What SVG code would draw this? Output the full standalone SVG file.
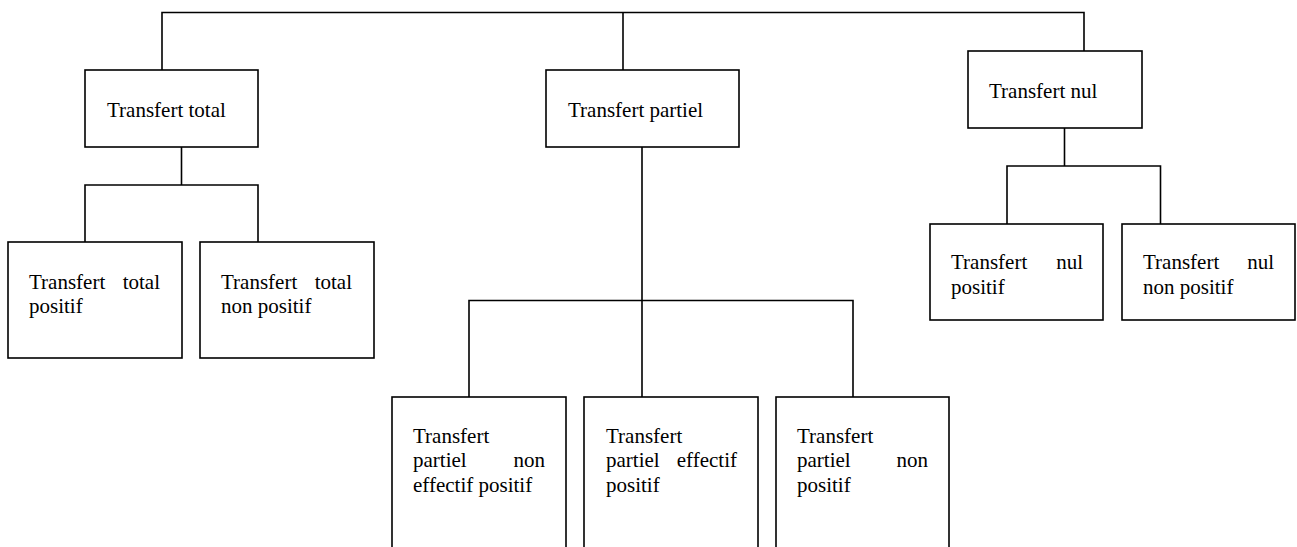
<svg xmlns="http://www.w3.org/2000/svg" width="1297" height="547" viewBox="0 0 1297 547">
<style>
.box{fill:#fff;stroke:#000;stroke-width:1.6}
.ln{fill:none;stroke:#000;stroke-width:1.6}
text{font-family:"Liberation Serif","Times New Roman",serif;font-size:21px;fill:#000}
</style>
<rect width="1297" height="547" fill="#fff"/>
<g id="connectors">
<path class="ln" d="M162,70 V12.5 H1084 V51"/>
<path class="ln" d="M623,12.5 V70"/>
<path class="ln" d="M181.5,147 V185 M85,242 V185 H258 V242"/>
<path class="ln" d="M642,147 V300.5 M469,397 V300.5 H853 V397 M642,300.5 V397"/>
<path class="ln" d="M1064.5,128 V166 M1007,224 V166 H1160.5 V224"/>
</g>
<g id="n-total">
<rect class="box" x="85" y="70" width="173" height="77"/>
<text x="107" y="117">Transfert total</text>
</g>
<g id="n-partiel">
<rect class="box" x="546" y="70" width="193" height="77"/>
<text x="568" y="117">Transfert partiel</text>
</g>
<g id="n-nul">
<rect class="box" x="968" y="51" width="174" height="77"/>
<text x="989" y="98">Transfert nul</text>
</g>
<g id="n-total-positif">
<rect class="box" x="8" y="242" width="174" height="116"/>
<text><tspan x="29" y="289">Transfert</tspan><tspan x="160" y="289" text-anchor="end">total</tspan><tspan x="29" y="313">positif</tspan></text>
</g>
<g id="n-total-nonpositif">
<rect class="box" x="200" y="242" width="174" height="116"/>
<text><tspan x="221" y="289">Transfert</tspan><tspan x="352" y="289" text-anchor="end">total</tspan><tspan x="221" y="313">non positif</tspan></text>
</g>
<g id="n-partiel-noneffectif">
<rect class="box" x="392" y="397" width="174" height="170"/>
<text><tspan x="413" y="443">Transfert</tspan><tspan x="413" y="467">partiel</tspan><tspan x="545" y="467" text-anchor="end">non</tspan><tspan x="413" y="492">effectif positif</tspan></text>
</g>
<g id="n-partiel-effectif">
<rect class="box" x="584" y="397" width="174" height="170"/>
<text><tspan x="606" y="443">Transfert</tspan><tspan x="606" y="467">partiel</tspan><tspan x="737" y="467" text-anchor="end">effectif</tspan><tspan x="606" y="492">positif</tspan></text>
</g>
<g id="n-partiel-nonpositif">
<rect class="box" x="776" y="397" width="173" height="170"/>
<text><tspan x="797" y="443">Transfert</tspan><tspan x="797" y="467">partiel</tspan><tspan x="928" y="467" text-anchor="end">non</tspan><tspan x="797" y="492">positif</tspan></text>
</g>
<g id="n-nul-positif">
<rect class="box" x="930" y="224" width="173" height="96"/>
<text><tspan x="951" y="269">Transfert</tspan><tspan x="1083" y="269" text-anchor="end">nul</tspan><tspan x="951" y="294">positif</tspan></text>
</g>
<g id="n-nul-nonpositif">
<rect class="box" x="1122" y="224" width="173" height="96"/>
<text><tspan x="1143" y="269">Transfert</tspan><tspan x="1274" y="269" text-anchor="end">nul</tspan><tspan x="1143" y="294">non positif</tspan></text>
</g>
</svg>
